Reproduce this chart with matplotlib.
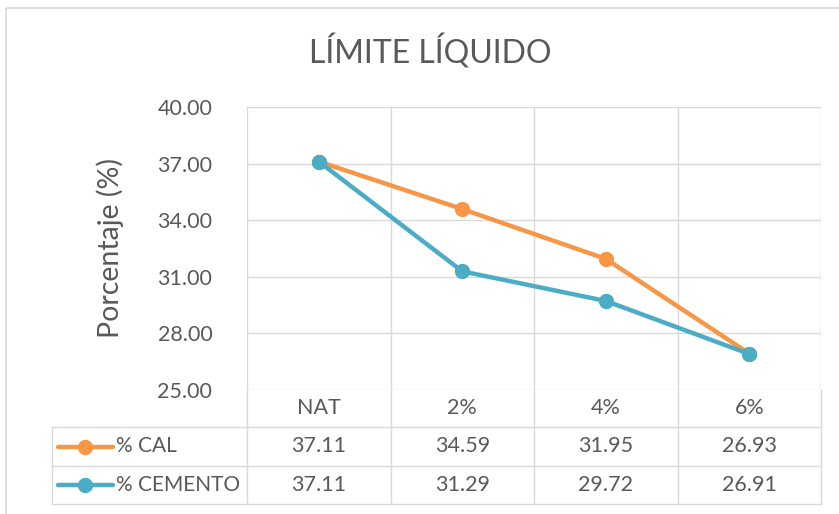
import matplotlib
matplotlib.use("Agg")
import matplotlib.pyplot as plt
from matplotlib.patches import Rectangle

plt.rcParams['font.family'] = ['Lato', 'DejaVu Sans']

categories = ["NAT", "2%", "4%", "6%"]
series_names = ["% CAL", "% CEMENTO"]
cal = [37.11, 34.59, 31.95, 26.93]
cemento = [37.11, 31.29, 29.72, 26.91]
yticks = [25, 28, 31, 34, 37, 40]

colors = ["#F79646", "#4BACC6"]
text_c = "#595959"
grid_c = "#D9D9D9"

W, H = 839, 514
fig = plt.figure(figsize=(W / 100, H / 100), dpi=100)

def fx(px):
    return px / W

def fy(py):
    return 1 - py / H

# main plot area
left, right, top, bottom = 247, 821, 107, 390
ax = fig.add_axes([fx(left), fy(bottom), fx(right - left), fy(top) - fy(bottom)])
n = len(categories)
ax.set_xlim(-0.5, n - 0.5)
ax.set_ylim(25, 40)
ax.set_yticks(yticks)
ax.set_yticklabels(["%.2f" % v for v in yticks], fontsize=15.5, color=text_c)
ax.tick_params(axis="y", length=0, pad=25)
ax.set_xticks([])
for s in ax.spines.values():
    s.set_visible(False)
for v in yticks:
    ax.axhline(v, color=grid_c, lw=1, zorder=0)
for i in range(n + 1):
    ax.axvline(i - 0.5, color=grid_c, lw=1, zorder=0)

x = list(range(n))
for vals, c in zip([cal, cemento], colors):
    ax.plot(x, vals, color=c, lw=3.2, marker="o", markersize=10, zorder=3,
            solid_capstyle="round")

ax.set_ylabel("Porcentaje (%)", fontsize=20.5, color=text_c, labelpad=24)

fig.text(fx(430), fy(52), "LÍMITE LÍQUIDO", fontsize=23, color=text_c,
         ha="center", va="center")

# data table below the plot
tleft = 52
rows = [390, 427, 466, 504]
tax = fig.add_axes([0, 0, 1, 1])
tax.set_xlim(0, W)
tax.set_ylim(H, 0)
tax.axis("off")
colw = (right - left) / n
lc = grid_c
for i in range(n + 1):
    xx = left + i * colw
    tax.plot([xx, xx], [rows[0], rows[-1]], color=lc, lw=1)
for yy in rows[1:]:
    tax.plot([tleft, right], [yy, yy], color=lc, lw=1)
tax.plot([tleft, tleft], [rows[1], rows[-1]], color=lc, lw=1)
for i, cat in enumerate(categories):
    tax.text(left + (i + 0.5) * colw, (rows[0] + rows[1]) / 2, cat,
             fontsize=15.5, color=text_c, ha="center", va="center")
for r, (name, vals, c) in enumerate(zip(series_names, [cal, cemento], colors)):
    yc = (rows[r + 1] + rows[r + 2]) / 2
    tax.plot([58, 113], [yc, yc], color=c, lw=3.2, solid_capstyle="round")
    tax.plot([85], [yc], marker="o", color=c, markersize=10)
    tax.text(116, yc, name, fontsize=15, color=text_c, ha="left", va="center")
    for i, v in enumerate(vals):
        tax.text(left + (i + 0.5) * colw, yc, "%.2f" % v, fontsize=15.5,
                 color=text_c, ha="center", va="center")

# chart frame
tax.add_patch(Rectangle((6, 8), W, H, fill=False, edgecolor="#D9D9D9", lw=1.2))

fig.savefig("out.png", dpi=100, facecolor="white")
